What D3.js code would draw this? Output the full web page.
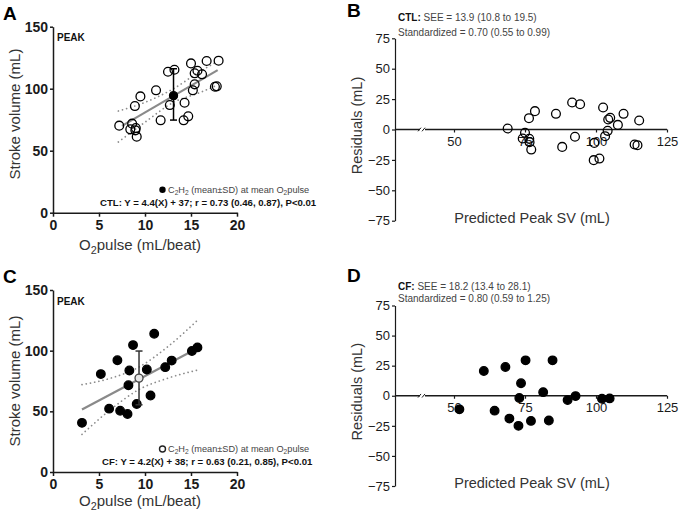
<!DOCTYPE html>
<html><head><meta charset="utf-8">
<script src="https://cdn.jsdelivr.net/npm/d3@7"></script>
<style>body{margin:0;background:#fff} text{font-family:"Liberation Sans",Arial,sans-serif}</style>
</head><body><svg id="c" width="682" height="518"></svg>
<script>
// ---------- DATA ----------
const scatterXTicks = [0, 5, 10, 15, 20];
const scatterYTicks = [0, 50, 100, 150];
const residXTicks = [50, 75, 100, 125];
const residYTicks = [-75, -50, -25, 0, 25, 50, 75];

// Panel A: CTL peak O2pulse vs stroke volume
const ctlO2 = [7.2, 8.6, 8.4, 9.0, 8.95, 9.1, 8.9, 9.5, 11.2, 11.7, 12.5, 13.2, 12.7, 14.3, 14.2, 14.7, 15.0, 15.2, 15.4, 15.4, 15.7, 16.2, 16.7, 17.6, 17.8, 18.0];
const ctlSV = [70.2, 71.8, 67.2, 68.3, 66.4, 61.3, 86.0, 93.8, 98.7, 74.5, 113.7, 115.3, 86.8, 88.7, 74.5, 77.7, 120.4, 98.7, 103.5, 112.4, 114.5, 111.6, 122.3, 101.6, 101.9, 122.6];
const ctlMean = { x: 13.1, y: 94.4, lo: 74.7, hi: 116.1 };
const ctlFitX = [7.5, 17.9];
const ctlFitY = [70.0, 115.0];
const ctlBandX = [7.1, 10, 13.1, 16, 17.9];
const ctlUpper = [82, 89, 100, 114, 122];
const ctlLower = [57, 73, 89, 97, 103];

// Panel C: CF
const cfO2 = [3.15, 5.2, 6.1, 7.0, 7.3, 8.1, 8.2, 8.3, 8.7, 9.1, 10.2, 10.6, 11.0, 12.2, 12.9, 15.1, 15.7];
const cfSV = [40.5, 80.7, 52.2, 92.1, 50.5, 47.8, 71.5, 83.7, 104.6, 56.0, 84.5, 63.0, 113.9, 86.4, 91.8, 99.7, 102.7];
const cfMean = { x: 9.35, y: 77.4, lo: 55.4, hi: 99.7 };
const cfFitX = [3.15, 15.7];
const cfFitY = [51.5, 102.0];
const cfBandX = [3.15, 6.35, 9.35, 12.35, 15.7];
const cfUpper = [72, 77.5, 86.5, 102.5, 125];
const cfLower = [31, 52, 68, 77, 84];

// Panel B: CTL residuals
const ctlPred = [68.9, 74.2, 75.0, 76.5, 76.6, 77.2, 76.4, 78.5, 85.9, 88.1, 91.6, 92.6, 94.4, 99.4, 99.2, 101.2, 102.5, 103.2, 104.1, 104.3, 105.0, 107.7, 109.7, 113.6, 114.6, 115.2];
const ctlResid = [0.8, -7.4, -2.7, -7.7, -10.4, -16.5, 9.3, 15.1, 12.9, -14.3, 22.2, -6.0, 20.8, -11.0, -25.2, -23.9, 18.1, -5.5, -1.1, 8.2, 9.6, 3.8, 12.9, -12.3, -12.9, 7.4];

// Panel D: CF residuals
const cfPred = [51.9, 60.5, 64.3, 68.1, 69.5, 72.7, 73.0, 73.6, 75.2, 77.1, 81.4, 83.4, 84.7, 90.0, 92.8, 102.1, 104.8];
const cfResid = [-11.3, 20.6, -12.4, 23.9, -19.0, -25.0, -1.9, 10.4, 29.4, -20.9, 3.0, -20.6, 29.4, -3.6, -0.3, -2.5, -2.2];

// ---------- DRAW ----------
const svg = d3.select("#c");

function addText(g, x, y, parts, o) {
  const size = o.size;
  const t = g.append("text").attr("x", x).attr("y", y)
    .attr("font-size", size).attr("font-weight", o.weight || "normal")
    .attr("fill", o.fill || "#222").attr("text-anchor", o.anchor || "start");
  if (o.rotate) t.attr("transform", `rotate(-90,${x},${y})`);
  const off = size * (o.subOff || 0.28);
  let pend = 0;
  parts.forEach(p => {
    if (typeof p === "string") { t.append("tspan").attr("dy", pend).text(p); pend = 0; }
    else if (p.sub !== undefined) { t.append("tspan").attr("dy", off + pend).attr("font-size", size * 0.72).text(p.sub); pend = -off; }
    else if (p.b !== undefined) { t.append("tspan").attr("dy", pend).attr("font-weight", "bold").attr("fill", "#111").text(p.b); pend = 0; }
  });
  return t;
}

function styleAxis(a, bold, size) {
  a.selectAll("path,line").attr("stroke", "#1a1a1a").attr("stroke-width", 1.5);
  a.selectAll("text").attr("font-size", size).attr("fill", "#1a1a1a")
    .attr("font-family", '"Liberation Sans",Arial,sans-serif')
    .attr("font-weight", bold ? "bold" : "normal");
}

function scatterPanel(o) {
  const g = svg.append("g");
  const x = d3.scaleLinear().domain([0, 20]).range([53, 237]);
  const y = d3.scaleLinear().domain([0, 150]).range([o.y0, o.y150]);
  const ln = d3.line().x(d => x(d[0])).y(d => y(d[1]));
  const curved = d3.line().x(d => x(d[0])).y(d => y(d[1])).curve(d3.curveMonotoneX);

  [o.upper, o.lower].forEach(b => {
    g.append("path").datum(o.bandX.map((v, i) => [v, b[i]])).attr("d", curved)
      .attr("fill", "none").attr("stroke", "#8c8c8c").attr("stroke-width", 1.7)
      .attr("stroke-dasharray", "0.1,4.2").attr("stroke-linecap", "round");
  });
  g.append("path").datum(o.fitX.map((v, i) => [v, o.fitY[i]])).attr("d", ln)
    .attr("fill", "none").attr("stroke", "#8a8a8a").attr("stroke-width", 2.2);

  g.selectAll(null).data(o.xs.map((v, i) => [v, o.ys[i]])).join("circle")
    .attr("cx", d => x(d[0])).attr("cy", d => y(d[1]))
    .attr("r", o.filled ? 4.3 : 4.4)
    .attr("fill", o.filled ? "#000" : "none").attr("stroke", "#000").attr("stroke-width", 1.3);

  // mean ± SD
  const m = o.mean, ec = o.filled ? "#333" : "#000";
  g.append("line").attr("x1", x(m.x)).attr("x2", x(m.x)).attr("y1", y(m.lo)).attr("y2", y(m.hi)).attr("stroke", ec).attr("stroke-width", 1.5);
  [m.lo, m.hi].forEach(v => g.append("line").attr("x1", x(m.x) - 3.5).attr("x2", x(m.x) + 3.5).attr("y1", y(v)).attr("y2", y(v)).attr("stroke", ec).attr("stroke-width", 1.5));
  g.append("circle").attr("cx", x(m.x)).attr("cy", y(m.y)).attr("r", 4)
    .attr("fill", o.filled ? "#e6e6e6" : "#000").attr("stroke", o.filled ? "#444" : "#000").attr("stroke-width", 1.3);

  // axes
  const ay = g.append("g").attr("transform", "translate(53,0)")
    .call(d3.axisLeft(y).tickValues(scatterYTicks).tickSize(3).tickSizeOuter(0).tickPadding(2));
  styleAxis(ay, true, 14);
  const ax = g.append("g").attr("transform", `translate(0,${o.y0})`)
    .call(d3.axisBottom(x).tickValues(scatterXTicks).tickSize(4).tickSizeOuter(0).tickPadding(3));
  styleAxis(ax, true, 14);

  // texts
  g.append("text").attr("x", 3).attr("y", o.letterY).attr("font-size", 19).attr("font-weight", "bold").attr("fill", "#000").text(o.letter);
  g.append("text").attr("x", 57).attr("y", o.y150 + 14.5).attr("font-size", 10).attr("font-weight", "bold").attr("fill", "#111").text("PEAK");
  addText(g, 20, o.ylabY, ["Stroke volume (mL)"], { size: 15, anchor: "middle", rotate: true, fill: "#333" });
  addText(g, 140, o.xlabY, ["O", { sub: "2" }, "pulse (mL/beat)"], { size: 15, anchor: "middle", fill: "#333" });

  // legend
  const ly = o.y0 - 23;
  if (o.filled) g.append("circle").attr("cx", 162.5).attr("cy", ly).attr("r", 3).attr("fill", "#fff").attr("stroke", "#222").attr("stroke-width", 1.4);
  else g.append("circle").attr("cx", 162.5).attr("cy", ly).attr("r", 3.2).attr("fill", "#000");
  addText(g, 168, ly + 3, ["C", { sub: "2" }, "H", { sub: "2" }, " (mean\u00B1SD) at mean O", { sub: "2" }, "pulse"], { size: 9.2, fill: "#444", subOff: 0.2 });
  addText(g, o.statX, o.y0 - 7, [o.stat], { size: 9.6, weight: "bold", fill: "#111" });
}

function residPanel(o) {
  const g = svg.append("g");
  const x = d3.scaleLinear().domain([50, 125]).range([454, 667]);
  const y = d3.scaleLinear().domain([-75, 75]).range([o.yBot, o.yTop]);
  const ay = g.append("g").attr("transform", "translate(395,0)")
    .call(d3.axisLeft(y).tickValues(residYTicks).tickSize(3).tickSizeOuter(0).tickPadding(2));
  styleAxis(ay, false, 13);
  ay.selectAll("path,line").attr("stroke-width", 1.2);
  const ax = g.append("g").attr("transform", `translate(0,${y(0)})`)
    .call(d3.axisBottom(x).tickValues(residXTicks).tickSize(3).tickSizeOuter(0).tickPadding(4));
  styleAxis(ax, false, 13);
  ax.select(".domain").remove();
  ax.selectAll("line").attr("stroke-width", 1.2);
  g.append("line").attr("x1", 395).attr("x2", 667).attr("y1", y(0)).attr("y2", y(0)).attr("stroke", "#1a1a1a").attr("stroke-width", 1.3);
  // axis break
  g.append("rect").attr("x", 420).attr("y", y(0) - 2).attr("width", 5).attr("height", 4).attr("fill", "#fff");
  [419.5, 423.5].forEach(bx => g.append("line").attr("x1", bx - 1.5).attr("x2", bx + 1.5).attr("y1", y(0) + 1.8).attr("y2", y(0) - 1.8).attr("stroke", "#1a1a1a").attr("stroke-width", 1));

  g.selectAll(null).data(o.xs.map((v, i) => [v, o.ys[i]])).join("circle")
    .attr("cx", d => x(d[0])).attr("cy", d => y(d[1]))
    .attr("r", o.filled ? 4.3 : 4.4)
    .attr("fill", o.filled ? "#000" : "none").attr("stroke", "#000").attr("stroke-width", 1.3);

  g.append("text").attr("x", 347).attr("y", o.letterY).attr("font-size", 19).attr("font-weight", "bold").attr("fill", "#000").text(o.letter);
  addText(g, 398, o.h1Y, [{ b: o.group }, o.see], { size: 10, fill: "#444" });
  addText(g, 398, o.h2Y, [o.std], { size: 10, fill: "#444" });
  addText(g, 362, (o.yTop + o.yBot) / 2 - 4, ["Residuals (mL)"], { size: 14.5, anchor: "middle", rotate: true, fill: "#333" });
  addText(g, 532, o.yBot + 2, ["Predicted Peak SV (mL)"], { size: 14.5, anchor: "middle", fill: "#333" });
}

scatterPanel({ letter: "A", letterY: 20, y0: 212.7, y150: 26.7, ylabY: 114, xlabY: 250,
  xs: ctlO2, ys: ctlSV, filled: false, mean: ctlMean, fitX: ctlFitX, fitY: ctlFitY,
  bandX: ctlBandX, upper: ctlUpper, lower: ctlLower, statX: 100,
  stat: "CTL: Y = 4.4(X) + 37; r = 0.73 (0.46, 0.87), P<0.01" });
scatterPanel({ letter: "C", letterY: 283, y0: 472, y150: 290, ylabY: 381, xlabY: 506,
  xs: cfO2, ys: cfSV, filled: true, mean: cfMean, fitX: cfFitX, fitY: cfFitY,
  bandX: cfBandX, upper: cfUpper, lower: cfLower, statX: 102,
  stat: "CF: Y = 4.2(X) + 38; r = 0.63 (0.21, 0.85), P<0.01" });
residPanel({ letter: "B", letterY: 17, yTop: 38.3, yBot: 220.7, h1Y: 21, h2Y: 35.5,
  xs: ctlPred, ys: ctlResid, filled: false, group: "CTL:", see: " SEE = 13.9 (10.8 to 19.5)",
  std: "Standardized = 0.70 (0.55 to 0.99)" });
residPanel({ letter: "D", letterY: 282, yTop: 305.5, yBot: 486, h1Y: 289.5, h2Y: 302,
  xs: cfPred, ys: cfResid, filled: true, group: "CF:", see: " SEE = 18.2 (13.4 to 28.1)",
  std: "Standardized = 0.80 (0.59 to 1.25)" });
</script></body></html>
